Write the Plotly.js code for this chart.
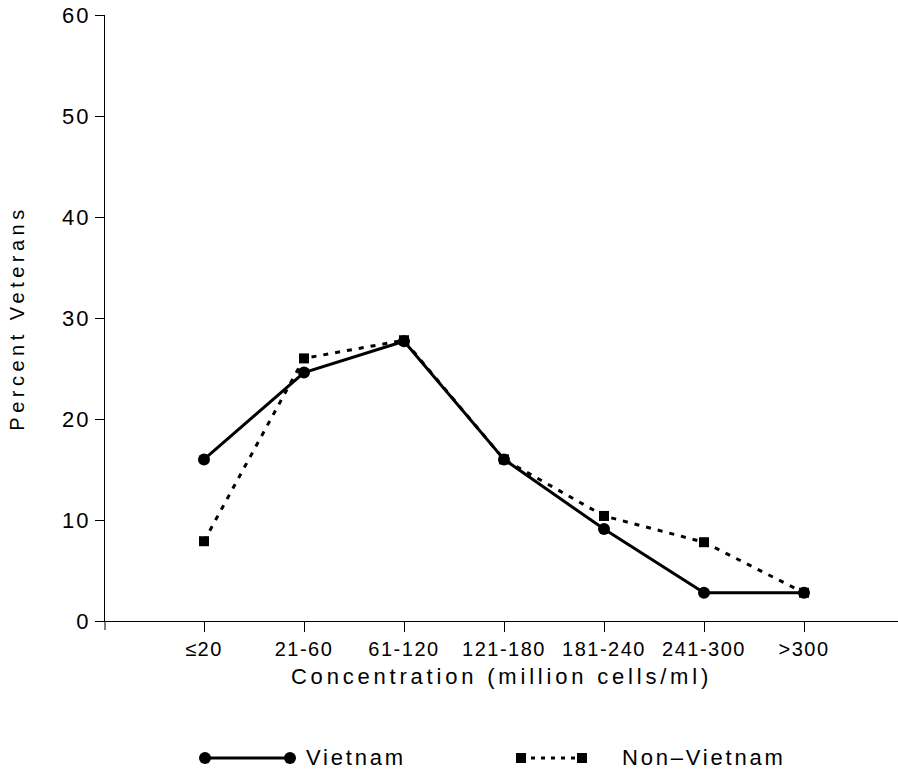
<!DOCTYPE html>
<html>
<head>
<meta charset="utf-8">
<script src="https://cdn.plot.ly/plotly-3.0.1.min.js"></script>
<style>
  html, body { margin: 0; padding: 0; background: #fff; }
  #chart { width: 898px; height: 775px; }
  .xtitle { letter-spacing: 3.8px; }
  .ytitle { letter-spacing: 4.5px; }
  .xtick text { letter-spacing: 1.5px; }
  .ytick text { letter-spacing: 2px; }
  .annotation-text { letter-spacing: 2.8px; }
</style>
</head>
<body>
<div id="chart"></div>
<script>
// ---- data ----
const categories = ["≤20", "21-60", "61-120", "121-180", "181-240", "241-300", ">300"];
const vietnam    = [16.0, 24.6, 27.7, 16.0, 9.1, 2.8, 2.8];
const nonVietnam = [7.9, 26.0, 27.8, 16.0, 10.4, 7.8, 2.8];
const yTickVals  = [0, 10, 20, 30, 40, 50, 60];
const seriesNames = ["Vietnam", "Non–Vietnam"];
const xTitle = "Concentration (million cells/ml)";
const yTitle = "Percent Veterans";

// ---- layout geometry ----
const W = 898, H = 775;
const M = { l: 105, r: 0, t: 15, b: 154 };
const PW = W - M.l - M.r, PH = H - M.t - M.b;
const px = x => (x - M.l) / PW;          // pixel -> paper x
const py = y => (H - M.b - y) / PH;      // pixel -> paper y

const FONT = "Liberation Sans, Arial, sans-serif";

const traces = [
  {
    x: categories, y: vietnam, name: seriesNames[0], type: "scatter", mode: "lines+markers",
    line: { color: "#000", width: 3 },
    marker: { symbol: "circle", size: 12, color: "#000" },
    showlegend: false, cliponaxis: false
  },
  {
    x: categories, y: nonVietnam, name: seriesNames[1], type: "scatter", mode: "lines+markers",
    line: { color: "#000", width: 3, dash: "5px,7px" },
    marker: { symbol: "square", size: 10, color: "#000" },
    showlegend: false, cliponaxis: false
  }
];

const legY = 758;
const shapes = [
  // y-axis extension below the x axis
  { type: "line", xref: "paper", yref: "paper", x0: 0, x1: 0, y0: 0, y1: py(630), line: { color: "#000", width: 1 } },
  // legend: Vietnam
  { type: "line", xref: "paper", yref: "paper", x0: px(205), x1: px(290), y0: py(legY), y1: py(legY), line: { color: "#000", width: 3 } },
  { type: "circle", xref: "paper", yref: "paper", xsizemode: "pixel", ysizemode: "pixel",
    xanchor: px(205), yanchor: py(legY), x0: -6, x1: 6, y0: -6, y1: 6, fillcolor: "#000", line: { width: 0 } },
  { type: "circle", xref: "paper", yref: "paper", xsizemode: "pixel", ysizemode: "pixel",
    xanchor: px(290), yanchor: py(legY), x0: -6, x1: 6, y0: -6, y1: 6, fillcolor: "#000", line: { width: 0 } },
  // legend: Non-Vietnam
  { type: "line", xref: "paper", yref: "paper", x0: px(521), x1: px(582), y0: py(legY), y1: py(legY), line: { color: "#000", width: 3, dash: "4px,6px" } },
  { type: "rect", xref: "paper", yref: "paper", xsizemode: "pixel", ysizemode: "pixel",
    xanchor: px(521), yanchor: py(legY), x0: -5, x1: 5, y0: -5, y1: 5, fillcolor: "#000", line: { width: 0 } },
  { type: "rect", xref: "paper", yref: "paper", xsizemode: "pixel", ysizemode: "pixel",
    xanchor: px(582), yanchor: py(legY), x0: -5, x1: 5, y0: -5, y1: 5, fillcolor: "#000", line: { width: 0 } }
];

const annotations = [
  { text: seriesNames[0], xref: "paper", yref: "paper", x: px(304), y: py(legY), xanchor: "left", yanchor: "middle",
    showarrow: false, font: { family: FONT, size: 22, color: "#000" } },
  { text: seriesNames[1], xref: "paper", yref: "paper", x: px(620), y: py(legY), xanchor: "left", yanchor: "middle",
    showarrow: false, font: { family: FONT, size: 22, color: "#000" } }
];

const layout = {
  width: W, height: H,
  margin: M,
  paper_bgcolor: "#fff", plot_bgcolor: "#fff",
  showlegend: false,
  font: { family: FONT, color: "#000" },
  xaxis: {
    type: "category",
    range: [-0.99, 6.94],
    showgrid: false, zeroline: false,
    showline: true, linecolor: "#000", linewidth: 1,
    ticks: "outside", ticklen: 10, tickwidth: 1, tickcolor: "#000",
    tickfont: { family: FONT, size: 20, color: "#000" },
    title: { text: xTitle, standoff: 9, font: { family: FONT, size: 22, color: "#000" } }
  },
  yaxis: {
    range: [0, 60],
    tickvals: yTickVals,
    showgrid: false, zeroline: false,
    showline: true, linecolor: "#000", linewidth: 1,
    ticks: "outside", ticklen: 9, tickwidth: 1, tickcolor: "#000",
    tickfont: { family: FONT, size: 22, color: "#000" },
    title: { text: yTitle, standoff: 32, font: { family: FONT, size: 20, color: "#000" } }
  },
  shapes: shapes,
  annotations: annotations
};

Plotly.newPlot("chart", traces, layout, { displayModeBar: false, staticPlot: true });
</script>
</body>
</html>
